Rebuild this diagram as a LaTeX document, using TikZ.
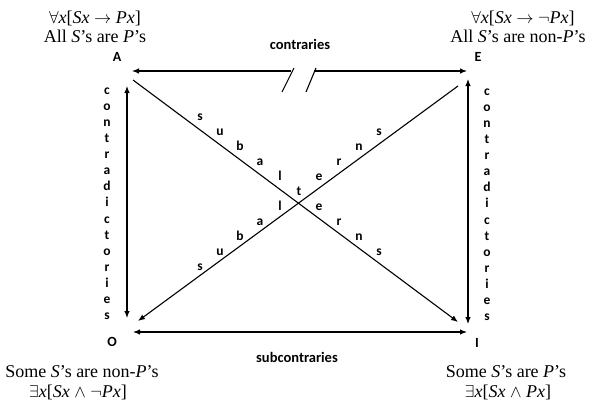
\documentclass[tikz,border=0pt]{standalone}
\usepackage{fontspec}
\setmainfont{Liberation Serif}
\newfontfamily\labfont{Carlito}
\usetikzlibrary{arrows.meta,calc}
\tikzset{
  corner/.style={font=\labfont\bfseries\fontsize{14}{16}\selectfont,inner sep=0pt},
  letter/.style={font=\labfont\bfseries\fontsize{13.5}{15}\selectfont,inner sep=0pt,anchor=base},
  rel/.style={font=\labfont\bfseries\fontsize{14.5}{16}\selectfont,inner sep=0pt},
  form/.style={font=\fontsize{18}{20}\selectfont,inner sep=0pt,anchor=base},
  arr/.style={line width=1.1pt,-{Latex[length=7pt,width=5.5pt]}},
  arrs/.style={line width=1.1pt,{Latex[length=7pt,width=5.5pt]}-{Latex[length=7pt,width=5.5pt]}}
}
\begin{document}
\begin{tikzpicture}[x=1pt,y=-1pt]
\useasboundingbox (0,0) rectangle (593,404);
% the four corners
\node[corner] (A) at (117,57) {A};
\node[corner] (E) at (478,57) {E};
\node[corner] (O) at (112,342) {O};
\node[corner] (I) at (477,343) {I};
% formulas
\node[form] (fA1) at (95,24) {$\forall$\textit{x}[\textit{Sx} $\rightarrow$ \textit{Px}]};
\node[form] (fA2) at (95,43) {All \textit{S}'s are \textit{P}'s};
\node[form] (fE1) at (523,24) {$\forall$\textit{x}[\textit{Sx} $\rightarrow$ $\neg$\textit{Px}]};
\node[form] (fE2) at (518,43) {All \textit{S}'s are non-\textit{P}'s};
\node[form] (fO1) at (82,377) {Some \textit{S}'s are non-\textit{P}'s};
\node[form] (fO2) at (78,397) {$\exists$\textit{x}[\textit{Sx} $\wedge$ $\neg$\textit{Px}]};
\node[form] (fI1) at (506,377) {Some \textit{S}'s are \textit{P}'s};
\node[form] (fI2) at (508,397) {$\exists$\textit{x}[\textit{Sx} $\wedge$ \textit{Px}]};
% end points of the connectors
\coordinate (ta) at (132,71); \coordinate (te) at (467,71);
\coordinate (bl) at (291,71); \coordinate (br) at (314,71);
\coordinate (bo) at (133,332); \coordinate (bi) at (467,332);
\coordinate (la) at (127,86); \coordinate (lo) at (127,318);
\coordinate (re) at (468,79); \coordinate (ri) at (468,324);
\coordinate (da) at (133,80); \coordinate (di) at (458,322);
\coordinate (de) at (458,86); \coordinate (do) at (138,321);
% contraries, broken line
\draw[arr] (bl) -- (ta);
\draw[arr] (br) -- (te);
\draw[line width=1.1pt] ($(bl)+(3,-3)$) -- ($(bl)+(-9,21)$);
\draw[line width=1.1pt] ($(br)+(2,-3)$) -- ($(br)+(-8,21)$);
\node[rel] (con) at (300,44) {contraries};
% subcontraries
\draw[arrs] (bo) -- (bi);
\node[rel] (sub) at (297,357) {subcontraries};
% contradictories
\draw[arrs] (la) -- (lo);
\draw[arrs] (re) -- (ri);
\foreach \l [count=\i from 0] in {c,o,n,t,r,a,d,i,c,t,o,r,i,e,s}{
  \node[letter] (cl\i) at (107,{94+16.14*\i}) {\l};
  \node[letter] (cr\i) at (487,{95+16.14*\i}) {\l};
}
% subalterns
\draw[arr] (da) -- (di);
\draw[arr] (de) -- (do);
\foreach \x/\y/\l [count=\i] in {200/117/s,220/132/u,240/147/b,260/162/a,280/177/l,299/192/t,319/177/e,339/162/r,359/147/n,379/132/s}
  \node[letter] (su\i) at (\x,\y+3.5) {\l};
\foreach \x/\y/\l [count=\i] in {200/267/s,220/252/u,240/237/b,260/222/a,280/207/l,319/207/e,339/222/r,359/237/n,379/252/s}
  \node[letter] (sd\i) at (\x,\y+3.5) {\l};
\end{tikzpicture}
\end{document}
